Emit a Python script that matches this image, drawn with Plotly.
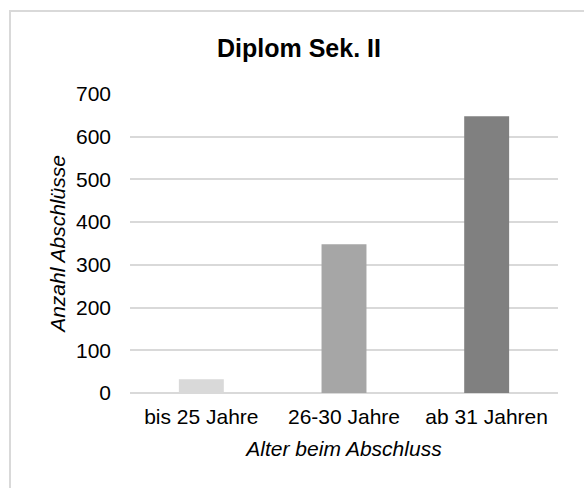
import plotly.graph_objects as go

categories = ["bis 25 Jahre", "26-30 Jahre", "ab 31 Jahren"]
values = [32, 348, 648]
bar_colors = ["#d9d9d9", "#a6a6a6", "#808080"]
y_ticks = [0, 100, 200, 300, 400, 500, 600, 700]

W, H = 584, 488
L, R, T, B = 130, 26, 94, 95
pw, ph = W - L - R, H - T - B

def px_x(p):
    return (p - L) / pw

def px_y(p):
    return (H - B - p) / ph

fig = go.Figure(go.Bar(
    x=categories, y=values, marker=dict(color=bar_colors, line=dict(width=0)),
    width=0.315, hoverinfo="skip",
))

border = dict(color="#d9d9d9", width=2)
font_family = "Liberation Sans, Arial, sans-serif"
fig.update_layout(
    width=W, height=H,
    margin=dict(l=L, r=R, t=T, b=B),
    paper_bgcolor="white", plot_bgcolor="white",
    font=dict(family=font_family, size=21, color="#000000"),
    title=dict(text="<b>Diplom Sek. II</b>", x=px_x(299), xanchor="center",
               y=1 - 48 / H, yanchor="middle", yref="container", xref="paper",
               font=dict(size=25, color="#000000")),
    showlegend=False,
    xaxis=dict(showgrid=False, showline=False, zeroline=False, ticks="",
               tickfont=dict(size=21), ticklabelstandoff=9, fixedrange=True,
               title=dict(text="<i>Alter beim Abschluss</i>", font=dict(size=21), standoff=14)),
    yaxis=dict(range=[0, 700], tickvals=y_ticks, showgrid=True, gridcolor="#d9d9d9", gridwidth=1.5,
               zeroline=True, zerolinecolor="#d9d9d9", zerolinewidth=1.5, showline=False, ticks="",
               tickfont=dict(size=21), ticklabelstandoff=18, fixedrange=True,
               title=dict(text="<i>Anzahl Abschlüsse</i>", font=dict(size=21), standoff=4)),
    shapes=[
        dict(type="line", xref="paper", yref="paper",
             x0=px_x(10), x1=px_x(10), y0=px_y(600), y1=px_y(10), line=border, layer="below"),
        dict(type="line", xref="paper", yref="paper",
             x0=px_x(9), x1=px_x(700), y0=px_y(11), y1=px_y(11), line=border, layer="below"),
    ],
)

fig.write_html("out.html", config={"displayModeBar": False},
               post_script="document.body.style.margin='0';document.body.style.overflow='hidden';")
